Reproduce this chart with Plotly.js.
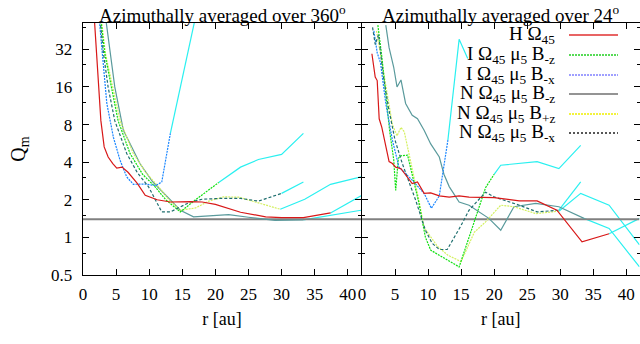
<!DOCTYPE html>
<html>
<head>
<meta charset="utf-8">
<script src="https://cdn.plot.ly/plotly-3.0.1.min.js"></script>
<style>html,body{margin:0;padding:0;background:#fff}#chart{width:640px;height:344px}</style>
</head>
<body>
<div id="chart"></div>
<script>
// ---------- Left panel: averaged over 360 deg ----------
var L_H_x   = [1.6, 2.0, 2.3, 2.7, 3.2, 3.8, 4.5, 5.1, 5.9, 6.8, 8.2, 9.4, 11.2, 13.2, 16.2, 18, 20, 23.8, 27.6, 30, 33.3, 37.4];
var L_H_y   = [70, 30, 16, 8.6, 5.3, 4.4, 3.9, 3.58, 3.65, 3.32, 2.71, 2.17, 2.0, 1.92, 1.93, 1.92, 1.84, 1.59, 1.46, 1.44, 1.44, 1.57];
var L_H_cx  = [37.4, 42];
var L_H_cy  = [1.57, 2.15];

var L_IBz_x = [2.6, 3.3, 4.3, 5.3, 7.1, 9.0, 10.9, 12.5, 14.7, 17, 20.5];
var L_IBz_y = [60, 29.5, 15.9, 8.6, 4.7, 3.2, 2.54, 2.0, 1.6, 2.0, 2.75];
var L_IBz_cx = [20.5, 23.8, 26.5, 30, 33.3];
var L_IBz_cy = [2.75, 3.65, 4.2, 4.62, 6.8];

var L_IBx_x = [2.4, 3.0, 3.6, 4.6, 5.6, 6.6, 7.6, 9.4, 11.0, 11.9, 13.2];
var L_IBx_y = [60, 25, 11.8, 6.3, 4.14, 3.05, 2.66, 2.67, 2.6, 2.78, 6.8];
var L_IBx_cx = [13.2, 14.7, 16.7, 17.2];
var L_IBx_cy = [6.8, 15.9, 48, 65];

var L_NBz_x = [3.2, 3.8, 4.8, 6.1, 8.6, 10.5, 12.7, 14.7, 16.7, 20, 22, 25, 29, 33.3];
var L_NBz_y = [70, 40, 16, 7.2, 3.9, 2.8, 2.11, 1.65, 1.46, 1.5, 1.52, 1.45, 1.37, 1.38];
var L_NBz_cx = [33.3, 37.4, 42];
var L_NBz_cy = [1.38, 1.5, 1.65];

var L_NBpz_x = [2.7, 3.4, 4.5, 5.6, 7.6, 9.5, 11.4, 13, 14.7, 17, 19, 21.2, 23.5, 26.8, 29.8];
var L_NBpz_y = [60, 29.5, 15.9, 8.6, 4.7, 3.3, 2.54, 2.0, 1.65, 1.72, 1.95, 2.11, 2.1, 1.87, 1.68];
var L_NBpz_cx = [29.8, 33.5, 37.4, 42];
var L_NBpz_cy = [1.68, 2.02, 2.66, 3.05];

var L_NBx_x = [2.5, 3.1, 3.8, 4.8, 6.6, 8.2, 9.9, 11.9, 13.2, 16.2, 18, 20.7, 23.8, 26.5, 30];
var L_NBx_y = [60, 29.5, 15.9, 8.6, 4.7, 3.3, 2.54, 1.6, 1.6, 1.92, 2.02, 2.05, 2.05, 1.95, 2.25];
var L_NBx_cx = [30, 33.3];
var L_NBx_cy = [2.25, 2.78];

// ---------- Right panel: averaged over 24 deg ----------
var R_H_x   = [1.5, 2.0, 2.3, 2.6, 3.0, 3.6, 4.1, 4.6, 5.1, 5.9, 6.6, 7.6, 8.4, 9.4, 10.4, 11.7, 13.2, 14.7, 16.2, 18.2, 20.0, 23.8, 26.5, 29.5, 33.3, 37.4];
var R_H_y   = [29.5, 19.2, 18, 8.9, 7.6, 5.3, 4.04, 3.9, 3.65, 3.55, 3.15, 2.7, 2.78, 2.25, 2.27, 2.15, 2.1, 2.15, 2.1, 2.1, 2.08, 1.96, 1.96, 1.65, 0.92, 1.07];
var R_H_cx  = [37.4, 42];
var R_H_cy  = [1.07, 1.42];

var R_IBz_x = [2.4, 3.0, 3.6, 4.2, 4.8, 5.1, 5.5, 5.9, 6.9, 7.6, 8.6, 9.6, 10.4, 12.5, 14.7, 16.7, 18.7, 20.0];
var R_IBz_y = [50, 28, 14, 7, 4.2, 2.38, 4.3, 4.5, 4.55, 3.2, 1.9, 1.0, 0.79, 0.68, 0.58, 1.2, 2.5, 3.2];
var R_IBz_cx = [20.0, 21, 26.5, 29.8, 33.1];
var R_IBz_cy = [3.2, 3.78, 4.04, 3.55, 5.45];

var R_IBx_x = [1.8, 2.3, 2.8, 3.2, 3.6, 4.6, 5.6, 7.6, 9.4, 10.5, 11.7, 13.0];
var R_IBx_y = [45, 30, 25, 18, 11.8, 6, 3.65, 2.87, 2.25, 1.71, 2.15, 6.0];
var R_IBx_cx = [13.0, 14.7, 16.0];
var R_IBx_cy = [6.0, 38.5, 27];

var R_NBz_x = [3.6, 4.1, 4.8, 5.3, 5.9, 6.6, 7.6, 8.4, 9.4, 10.4, 11.7, 12.4, 13.2, 14.7, 16.2, 18.2, 19.2, 21, 23, 26.3, 29.8, 33.6];
var R_NBz_y = [50, 33, 23, 16, 18.2, 11.8, 9.5, 8.9, 7.2, 5.6, 4.4, 3.2, 2.55, 1.92, 1.81, 1.55, 1.42, 1.14, 1.76, 1.87, 1.76, 1.42];
var R_NBz_cx = [33.6, 37.4, 42];
var R_NBz_cy = [1.42, 1.18, 0.58];

var R_NBpz_x = [2.2, 3.0, 3.8, 4.6, 5.3, 5.9, 6.4, 7.6, 8.6, 9.4, 11.4, 13, 15, 17, 18.7, 21, 23, 26.3, 29.8];
var R_NBpz_y = [45, 25, 14, 8, 6.5, 7.6, 7.0, 3.65, 2.0, 1.2, 0.85, 0.72, 0.64, 1.1, 1.33, 1.81, 1.76, 1.55, 1.62];
var R_NBpz_cx = [29.8, 33.1, 37.4, 42];
var R_NBpz_cy = [1.62, 2.25, 1.81, 0.87];

var R_NBx_x = [1.6, 2.0, 2.5, 3.2, 4.0, 5.0, 6.1, 7.0, 8.1, 9.6, 10.6, 11.7, 12.9, 14.9, 16.2, 18.7, 20, 23.8, 26.5, 29.8];
var R_NBx_y = [48, 35, 42, 20, 11, 6, 3.9, 2.9, 2.0, 1.14, 0.9, 0.8, 0.8, 1.22, 1.65, 2.3, 2.11, 1.81, 1.6, 1.65];
var R_NBx_cx = [29.8, 33.1];
var R_NBx_cy = [1.65, 2.78];

var thresholdQ = 1.4;
var yTickVals = [0.5, 1, 2, 4, 8, 16, 32];
var yTickText = ['0.5', '1', '2', '4', '8', '16', '32'];
var yMinorVals = [0.75, 1.5, 3, 6, 12, 24, 48];
var xTickVals = [0, 5, 10, 15, 20, 25, 30, 35, 40];

var seriesNames = ['H \u03A9<sub>45</sub>',
  'I \u03A9<sub>45</sub> \u03BC<sub>5</sub> B<sub>-z</sub>',
  'I \u03A9<sub>45</sub> \u03BC<sub>5</sub> B<sub>-x</sub>',
  'N \u03A9<sub>45</sub> \u03BC<sub>5</sub> B<sub>-z</sub>',
  'N \u03A9<sub>45</sub> \u03BC<sub>5</sub> B<sub>+z</sub>',
  'N \u03A9<sub>45</sub> \u03BC<sub>5</sub> B<sub>-x</sub>'];
var plotColors = ['#d81818', '#10e010', '#1a86ff', '#5a9a9c', '#d4f060', '#1f6f6f'];
var plotDash = ['solid', '2px,1px', '2px,1px', 'solid', '2px,1px', '3px,2px'];
var legendColors = ['#e03030', '#20d020', '#8080ff', '#707070', '#f0f000', '#202020'];
var legendDash = ['solid', '2px,1px', '2px,1px', 'solid', '2px,1px', '2px,2px'];
var cyanColor = '#2af0f0';

var left = [[L_H_x, L_H_y, L_H_cx, L_H_cy], [L_IBz_x, L_IBz_y, L_IBz_cx, L_IBz_cy], [L_IBx_x, L_IBx_y, L_IBx_cx, L_IBx_cy],
            [L_NBz_x, L_NBz_y, L_NBz_cx, L_NBz_cy], [L_NBpz_x, L_NBpz_y, L_NBpz_cx, L_NBpz_cy], [L_NBx_x, L_NBx_y, L_NBx_cx, L_NBx_cy]];
var right = [[R_H_x, R_H_y, R_H_cx, R_H_cy], [R_IBz_x, R_IBz_y, R_IBz_cx, R_IBz_cy], [R_IBx_x, R_IBx_y, R_IBx_cx, R_IBx_cy],
            [R_NBz_x, R_NBz_y, R_NBz_cx, R_NBz_cy], [R_NBpz_x, R_NBpz_y, R_NBpz_cx, R_NBpz_cy], [R_NBx_x, R_NBx_y, R_NBx_cx, R_NBx_cy]];

var traces = [];
function addPanel(panel, xa, ya) {
  panel.forEach(function (s, i) {
    traces.push({x: s[2], y: s[3], xaxis: xa, yaxis: ya, mode: 'lines', showlegend: false, hoverinfo: 'skip',
      line: {color: cyanColor, width: 1.2}});
  });
  traces.push({x: [0, 42], y: [thresholdQ, thresholdQ], xaxis: xa, yaxis: ya, mode: 'lines', showlegend: false,
    line: {color: '#808080', width: 2}});
  var order = [3, 4, 1, 2, 5, 0];
  order.forEach(function (i) {
    var s = panel[i];
    traces.push({x: s[0], y: s[1], xaxis: xa, yaxis: ya, mode: 'lines', name: seriesNames[i], showlegend: false,
      line: {color: plotColors[i], width: 1.2, dash: plotDash[i]}});
  });
}
addPanel(left, 'x', 'y');
addPanel(right, 'x2', 'y2');

var W = 640, H = 344;
function px(x) { return x / W; }
function py(y) { return 1 - y / H; }

var serif = 'Liberation Serif';
var axisCommon = {showline: true, linecolor: '#000', linewidth: 1.3, mirror: 'allticks', ticks: 'inside',
  ticklen: 6, tickcolor: '#000', showgrid: false, zeroline: false,
  tickfont: {family: serif, size: 17, color: '#000'}};

var yCommon = Object.assign({}, axisCommon, {type: 'log', range: [Math.log10(0.5), Math.log10(52)],
  tickmode: 'array', tickvals: yTickVals, ticktext: yTickText,
  minor: {tickvals: yMinorVals, ticks: 'inside', ticklen: 3, tickcolor: '#000'},
  domain: [1 - 275 / H, 1 - 23 / H]});
var xCommon = Object.assign({}, axisCommon, {range: [0, 42], tickmode: 'array', tickvals: xTickVals});

var layout = {
  width: W, height: H, margin: {l: 0, r: 0, t: 0, b: 0}, paper_bgcolor: '#fff', plot_bgcolor: '#fff',
  showlegend: false,
  font: {family: serif, color: '#000'},
  xaxis: Object.assign({}, xCommon, {domain: [px(83), px(361)], anchor: 'y', ticklabelstandoff: 3,
    title: {text: 'r [au]', font: {family: serif, size: 18, color: '#000'}, standoff: 9}}),
  xaxis2: Object.assign({}, xCommon, {domain: [px(362), px(639.5)], anchor: 'y2', ticklabelstandoff: 3,
    title: {text: 'r [au]', font: {family: serif, size: 18, color: '#000'}, standoff: 9}}),
  yaxis: Object.assign({}, yCommon, {anchor: 'x', ticklabelstandoff: 6,
    title: {text: 'Q<sub>m</sub>', font: {family: serif, size: 20, color: '#000'}, standoff: 20}}),
  yaxis2: Object.assign({}, yCommon, {anchor: 'x2', showticklabels: false}),
  annotations: [
    {text: 'Azimuthally averaged over 360<sup>o</sup>', xref: 'paper', yref: 'paper', x: px(222), y: py(0),
     xanchor: 'center', yanchor: 'top', showarrow: false, font: {family: serif, size: 19, color: '#000'}},
    {text: 'Azimuthally averaged over 24<sup>o</sup>', xref: 'paper', yref: 'paper', x: px(501), y: py(0),
     xanchor: 'center', yanchor: 'top', showarrow: false, font: {family: serif, size: 19, color: '#000'}}
  ],
  shapes: []
};

var legendRows = [35, 55, 75, 94, 114, 133];
seriesNames.forEach(function (name, i) {
  layout.annotations.push({text: name, xref: 'paper', yref: 'paper', x: px(557), y: py(legendRows[i]),
    xanchor: 'right', yanchor: 'middle', showarrow: false, font: {family: serif, size: 19, color: '#000'}});
  layout.shapes.push({type: 'line', xref: 'paper', yref: 'paper', x0: px(569), x1: px(618),
    y0: py(legendRows[i]), y1: py(legendRows[i]), line: {color: legendColors[i], width: 1.3, dash: legendDash[i]}});
});

Plotly.newPlot('chart', traces, layout, {staticPlot: true});
</script>
</body>
</html>
